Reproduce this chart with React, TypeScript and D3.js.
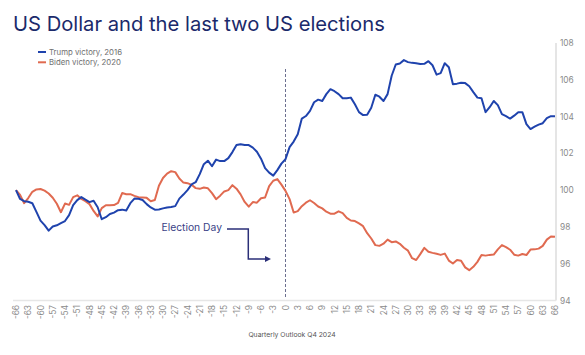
import React from "react";
import * as d3 from "d3";

const days: number[] = d3.range(-66, 67);

const trump2016: number[] = [
  100.0, 99.52, 99.4, 99.37, 99.29, 98.82, 98.34, 98.1, 97.8, 98.02,
  98.09, 98.21, 98.32, 98.64, 99.18, 99.46, 99.62, 99.48, 99.35, 99.42,
  99.07, 98.42, 98.53, 98.7, 98.78, 98.91, 98.94, 98.89, 99.29, 99.54,
  99.53, 99.46, 99.24, 99.06, 98.94, 98.95, 99.01, 99.06, 99.08, 99.13,
  99.54, 99.76, 100.0, 100.31, 100.43, 100.87, 101.41, 101.6, 101.3, 101.66,
  101.58, 101.58, 101.74, 102.07, 102.45, 102.5, 102.45, 102.45, 102.31, 102.09,
  101.71, 101.2, 100.95, 100.79, 101.09, 101.44, 101.68, 102.34, 102.64, 103.04,
  103.89, 104.03, 104.31, 104.78, 104.92, 104.85, 105.22, 105.49, 105.38, 105.22,
  105.0, 105.0, 105.03, 104.67, 104.24, 104.08, 104.1, 104.48, 105.19, 105.08,
  104.85, 105.22, 106.22, 106.83, 106.89, 107.07, 106.96, 106.92, 106.9, 106.86,
  106.87, 107.01, 106.79, 106.28, 106.36, 106.9, 106.68, 105.76, 105.79, 105.84,
  105.82, 105.65, 105.33, 105.03, 105.0, 104.24, 104.51, 104.85, 104.62, 104.13,
  104.02, 103.89, 104.05, 104.24, 104.24, 103.59, 103.32, 103.45, 103.56, 103.64,
  103.91, 104.02, 104.02,
];

const biden2020: number[] = [
  100.0, 99.74, 99.29, 99.57, 99.91, 100.04, 100.06, 99.97, 99.82, 99.59,
  99.26, 98.8, 99.27, 99.2, 99.62, 99.72, 99.52, 99.4, 99.24, 98.87,
  98.57, 99.02, 99.18, 99.18, 99.19, 99.31, 99.84, 99.78, 99.78, 99.69,
  99.62, 99.6, 99.58, 99.4, 99.46, 100.24, 100.66, 100.9, 101.03, 100.98,
  100.63, 100.41, 100.38, 100.29, 100.11, 100.07, 100.14, 100.1, 99.84, 99.51,
  99.7, 99.93, 100.0, 100.27, 100.08, 99.77, 99.36, 99.1, 99.35, 99.32,
  99.56, 99.6, 100.22, 100.51, 100.6, 100.3, 99.96, 99.51, 98.78, 98.86,
  99.13, 99.32, 99.45, 99.3, 99.11, 99.01, 98.83, 98.72, 98.72, 98.85,
  98.75, 98.49, 98.35, 98.32, 98.19, 98.04, 97.66, 97.37, 97.01, 96.97,
  97.09, 97.31, 97.17, 97.21, 97.08, 96.87, 96.71, 96.3, 96.2, 96.52,
  96.86, 96.65, 96.59, 96.54, 96.48, 96.55, 96.17, 96.01, 96.2, 96.16,
  95.8, 95.65, 95.83, 96.1, 96.47, 96.44, 96.48, 96.5, 96.78, 97.01,
  96.9, 96.76, 96.49, 96.44, 96.53, 96.47, 96.77, 96.78, 96.82, 96.97,
  97.31, 97.48, 97.46,
];

const xTicks: number[] = d3.range(-66, 67, 3);
const yTicks: number[] = [94, 96, 98, 100, 102, 104, 106, 108];

const titleText = "US Dollar and the last two US elections";
const legendLabels = ["Trump victory, 2016", "Biden victory, 2020"];
const footerText = "Quarterly Outlook Q4 2024";
const annotationText = "Election Day";

const BLUE = "#1f43ad";
const RED = "#e06a50";
const FONT = "Inter, 'Noto Sans', sans-serif";

export default function App() {
  const x = d3.scaleLinear().domain([-66, 66]).range([16, 555]);
  const y = d3.scaleLinear().domain([94, 108]).range([300.5, 43]);

  const line = d3
    .line<number>()
    .x((_, i) => x(days[i]))
    .y((d) => y(d))
    .curve(d3.curveLinear);

  return (
    <svg
      width={585}
      height={355}
      style={{ position: "absolute", left: 0, top: 0, background: "#fff" }}
      fontFamily={FONT}
    >
      <rect width={585} height={355} fill="#fff" />
      <text x={13} y={31} fontSize={20.2} fill="#1b2a6b">
        {titleText}
      </text>

      {/* legend */}
      <line x1={38} x2={46} y1={52} y2={52} stroke={BLUE} strokeWidth={2} />
      <text x={49} y={52} fontSize={7.8} fill="#707070" dominantBaseline="central">
        {legendLabels[0]}
      </text>
      <line x1={38} x2={46} y1={62.3} y2={62.3} stroke={RED} strokeWidth={2} />
      <text x={49} y={62.3} fontSize={7.8} fill="#707070" dominantBaseline="central">
        {legendLabels[1]}
      </text>

      {/* axes */}
      <line x1={556} x2={556} y1={y(108)} y2={y(94)} stroke="#dcdcdc" strokeWidth={1.5} />
      <line x1={13} x2={556} y1={y(94)} y2={y(94)} stroke="#e6e6e6" strokeWidth={1.5} />
      {yTicks.map((t) => (
        <text key={t} x={560} y={y(t)} fontSize={8.3} fill="#8a8a8a" dominantBaseline="central">
          {t}
        </text>
      ))}
      {xTicks.map((t) => (
        <text
          key={t}
          transform={`translate(${x(t)},305) rotate(-90)`}
          fontSize={8.3}
          fill="#8a8a8a"
          textAnchor="end"
          dominantBaseline="central"
        >
          {t}
        </text>
      ))}

      {/* election day */}
      <line
        x1={x(0)}
        x2={x(0)}
        y1={69}
        y2={298}
        stroke="#6b6f8f"
        strokeWidth={1}
        strokeDasharray="3,2"
      />

      <path d={line(biden2020) || ""} fill="none" stroke={RED} strokeWidth={2} strokeLinejoin="round" />
      <path d={line(trump2016) || ""} fill="none" stroke={BLUE} strokeWidth={2} strokeLinejoin="round" />

      <text x={161.5} y={227} fontSize={10.3} fill="#3a3f87" dominantBaseline="central">
        {annotationText}
      </text>
      <path d="M227,229 H248.3 V259 H266" fill="none" stroke="#2b2f78" strokeWidth={1.5} />
      <path d="M271,259 L265,256 L265,262 Z" fill="#2b2f78" />

      <text x={292} y={334} fontSize={6.8} fill="#555" textAnchor="middle" dominantBaseline="central">
        {footerText}
      </text>
    </svg>
  );
}
